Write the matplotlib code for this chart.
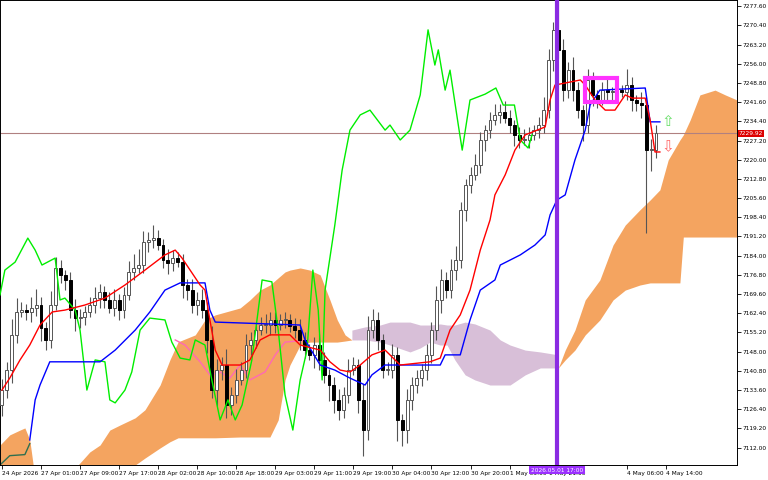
import matplotlib
matplotlib.use("Agg")
import matplotlib.pyplot as plt
from matplotlib.patches import Rectangle
import numpy as np

closes = [7133.8,7141.3,7154.4,7163.0,7163.7,7163.0,7164.5,7165.6,7157.0,7152.5,
          7165.6,7179.5,7176.8,7175.0,7163.7,7160.7,7161.1,7163.0,7165.6,7168.2,
          7170.5,7167.5,7164.5,7167.5,7163.7,7169.4,7178.0,7179.5,7180.6,7189.2,
          7190.0,7190.7,7188.1,7182.5,7181.3,7183.2,7181.7,7173.1,7171.2,7165.6,
          7167.5,7163.7,7152.5,7133.8,7141.3,7143.1,7128.1,7131.9,7137.5,7141.3,
          7150.6,7152.5,7156.2,7158.1,7158.1,7160.0,7158.1,7160.0,7160.0,7157.5,7156.2,
          7152.5,7148.7,7146.9,7150.6,7145.0,7139.4,7135.6,7130.0,7126.3,7131.9,
          7141.3,7143.1,7130.0,7118.8,7156.2,7160.0,7152.5,7141.3,7141.3,7146.9,
          7122.5,7118.8,7130.0,7135.6,7138.0,7141.3,7146.9,7156.2,7167.5,7175.0,7171.2,
          7178.7,7182.5,7201.2,7210.6,7214.3,7218.1,7227.4,7231.2,7234.9,7236.8,
          7237.9,7235.6,7233.0,7229.3,7227.4,7227.4,7229.3,7231.2,7233.0,7238.6,
          7257.4,7268.6,7261.1,7246.1,7253.6,7246.1,7238.6,7233.0,7249.9,7244.3,
          7242.4,7246.1,7245.4,7245.4,7246.1,7245.4,7248.0,7242.4,7241.3,7240.5,
          7223.7,7223.7,7229.92]
first_open = 7128.0
wick_up = [4,3,6,5,3,2,4,6,3,2, 5,4,3,2,3,4,3,2,3,4, 3,2,3,4,2,3,4,5,6,4,
           3,5,3,2,4,3,2,3,2,4, 3,4,3,5,4,3,6,3,4,3, 4,3,2,3,4,3,3,2,3,2,3,
           4,3,2,3,4,3,2,3,4,3, 4,3,2,6,5,4,3,2,3,4, 3,2,4,3,3,2,4,3,5,4,3,
           4,5,3,2,3,4,3,2,3,4, 3,4,3,2,3,4,3,2,3,5, 4,3,11,4,3,5,3,2,4,3,
           2,3,4,2,3,2,6,3,2,4, 3,4,3]
wick_dn = [4,3,5,3,2,3,4,3,5,4, 3,2,3,4,3,5,4,3,2,3, 4,3,2,3,4,3,2,3,2,3,
           4,3,2,3,4,3,2,5,4,3, 4,3,5,3,6,4,5,4,3,2, 3,4,3,2,3,4,3,2,3,2,3,
           4,3,2,5,4,3,6,5,4,3, 3,2,5,10,4,3,4,3,2,3, 8,6,5,4,3,3,4,3,4,5,3,
           3,4,3,4,3,2,3,4,3,2, 3,2,3,4,3,2,3,2,3,3, 3,4,3,4,3,4,3,6,3,4,
           3,2,3,4,3,2,3,4,3,5, 31,8,3]

tenkan_x = [0,1.6,3.7,5.7,7.8,10.3,12.9,17,21.1,25.2,29.3,33.4,35.5,36.9,40.6,41.6,42.6,43.7,45.1,48.8,
            50.8,52.9,54.9,59,61.1,65.2,67.2,69.3,71.3,73.4,75.8,78.5,81.6,87.7,89.8,91.8,93.9,95.9,98,100,
            101,103.1,105.1,107.2,111.3,112.3,113.3,118.5,119.5,121.5,123.6,125.6,127.7,129.1,131.8,132.8,133.8,134.8]
tenkan_y = [7133.6,7138.1,7144.9,7150.5,7158.0,7162.9,7163.6,7165.5,7168.1,7173.0,7178.6,7184.3,7186.1,7183.1,7173.0,7171.1,7159.9,7148.6,7143.0,7143.0,
            7144.9,7152.4,7154.3,7154.3,7150.5,7148.6,7144.2,7141.1,7140.4,7143.0,7146.8,7148.6,7143.0,7144.2,7145.6,7156.1,7161.8,7171.1,7186.1,7197.4,
            7206.8,7214.3,7223.6,7229.3,7232.3,7242.4,7248.0,7249.9,7248.0,7242.4,7238.6,7238.6,7244.3,7243.1,7243.1,7234.9,7222.9,7222.9]

kijun_x = [5.7,6.8,7.8,9.8,20.1,23.2,27.3,30.3,33.4,36.5,41.6,42.6,43.7,61.1,62.1,65.2,68.2,71.3,74.4,75.8,
           78.5,89.8,90.8,93.9,95.9,98,101,102.1,106.2,109.2,111.3,112.3,113.7,115.4,117.4,119.5,120.5,122.5,131.8,132.8,134.8]
kijun_y = [7114.9,7129.9,7135.5,7144.2,7144.2,7148.6,7156.1,7162.9,7171.1,7173.8,7173.8,7163.6,7159.1,7158.0,7152.4,7143.0,7141.1,7138.1,7135.5,7139.3,
           7143.0,7143.0,7146.8,7146.8,7159.9,7171.1,7174.9,7180.5,7184.3,7188.0,7191.8,7199.3,7204.9,7206.8,7219.9,7231.1,7240.5,7246.1,7246.9,7234.2,7234.2]

chikou_x = [-0.4,0.6,2.7,5.3,6.8,8.2,10.9,11.9,12.9,15,16,17.4,19.1,21.1,22.1,23.2,25.2,26.6,28.3,30.3,
            33.4,34.8,36.5,38.5,39.6,41.6,43,44.7,46.3,47.8,49.2,51.2,53.3,55.3,56.6,58,59.6,61.1,62.5,63.7,
            64.8,65.6,66.2,68.2,69.7,71.3,73.4,75.4,78.5,79.5,81.6,83.6,85.7,87.3,88.1,88.7,89.4,90.8,91.8,93.5,
            94.3,95.9,99,101.2,102.7,105,106.2,107.8,108.6]
chikou_y = [7169.3,7178.6,7181.6,7190.6,7186.1,7180.5,7183.1,7167.4,7168.1,7163.6,7156.1,7133.6,7144.9,7144.2,7129.9,7128.8,7133.6,7140.4,7156.1,7160.6,
            7159.9,7151.6,7145.6,7144.9,7152.4,7150.5,7137.4,7122.4,7129.9,7122.4,7128.0,7144.9,7174.9,7174.2,7156.1,7131.8,7118.6,7137.4,7148.6,7178.6,
            7163.6,7137.4,7171.1,7195.5,7216.1,7231.1,7236.8,7238.6,7231.1,7233.0,7227.4,7231.1,7244.3,7268.7,7261.2,7255.5,7261.2,7246.1,7253.6,7233.0,
            7223.6,7242.4,7244.6,7246.9,7240.5,7240.5,7227.4,7224.4,7229.3]

cloud1_x = [-0.4,1.6,3.7,4.7,5.7,6.4]
cloud1_top = [7113.0,7116.8,7118.6,7119.4,7114.9,7105.5]
cloud1_bot = [7105.5]*6

cloud2_x = [15.6,18.0,20.1,22.1,24.2,27.3,29.3,32.4,34.4,36.1,39.6,41.6,43.7,48.8,50.8,52.9,54.9,56.6,58.0,59.0,61.1,63.1,65.2,67.2,68.7,70.3,71.7]
cloud2_top = [7105.5,7110.4,7113.0,7118.6,7120.5,7123.2,7126.2,7135.5,7144.9,7151.7,7154.3,7159.9,7161.8,7164.4,7167.4,7171.1,7173.0,7175.7,7177.9,7178.6,7179.4,7178.6,7176.8,7167.4,7159.9,7154.3,7152.4]
cloud2_bot = [7105.5,7105.5,7105.5,7105.5,7105.5,7105.5,7108.1,7111.9,7114.2,7115.7,7115.7,7115.7,7115.7,7116.0,7116.0,7116.0,7116.0,7122.4,7137.4,7143.0,7150.5,7151.6,7151.6,7151.6,7151.6,7152.0,7152.4]

cloud3_x = [71.7,74.4,77.5,79.5,83.6,85.7,87.7,89.8,91.2,92.8,94.9,96.9,100.0,102.1,104.1,107.2,110.3,114.0]
cloud3_top = [7156.1,7157.3,7158.0,7159.1,7159.1,7158.0,7158.0,7158.4,7158.0,7158.0,7159.1,7158.4,7156.1,7152.4,7150.5,7148.6,7147.9,7146.8]
cloud3_bot = [7152.4,7152.4,7151.6,7150.5,7147.9,7149.4,7151.6,7150.5,7150.5,7144.9,7139.3,7137.4,7135.5,7135.5,7135.5,7139.3,7141.9,7141.9]

cloud4_x = [114.0,115.4,117.4,119.5,122.5,125.2,127.7,130.7,132.8,134.8,136.5,138.9,139.6,141.0,143.0,146.1,148.2,150.6]
cloud4_top = [7141.9,7148.6,7156.1,7167.4,7174.9,7188.0,7195.5,7201.2,7204.9,7208.7,7219.9,7227.4,7229.3,7234.9,7244.3,7246.1,7244.3,7242.4]
cloud4_bot = [7141.9,7144.9,7148.6,7154.3,7159.9,7167.4,7171.1,7173.0,7173.8,7173.8,7173.8,7173.8,7191.0,7191.0,7191.0,7191.0,7191.0,7191.0]

pink_x = [35.5,37.5,40.6,42.6,44.7,46.7,48.8,50.8,53.9,56,58,63.1]
pink_y = [7152.4,7150.5,7144.2,7139.3,7140.4,7138.1,7143.0,7137.4,7140.4,7146.8,7151.6,7152.4]

tick_labels = ["24 Apr 2026","27 Apr 01:00","27 Apr 09:00","27 Apr 17:00","28 Apr 02:00","28 Apr 10:00",
               "28 Apr 18:00","29 Apr 03:00","29 Apr 11:00","29 Apr 19:00","30 Apr 04:00","30 Apr 12:00",
               "30 Apr 20:00","1 May 05:00","1 May 21:00","4 May 06:00","4 May 14:00"]
tick_pos = [0,8,16,24,32,40,48,56,64,72,80,88,96,104,112,128,136]
cursor_bar = 113.7
cursor_label = "2026.05.01 17:00"
last_price = 7229.92
price_ticks = [7112.00 + 7.2*k for k in range(24)]
ymin, ymax = 7105.5, 7279.9

fig = plt.figure(figsize=(7.68, 4.8), dpi=100)
ax = fig.add_axes([0, 15/480, 737/768, 465/480])
ax.set_xlim(-0.4, 150.6)
ax.set_ylim(ymin, ymax)

ORANGE = "#f4a460"
ax.fill_between(cloud1_x, cloud1_bot, cloud1_top, color=ORANGE, lw=0, zorder=1)
ax.fill_between(cloud2_x, cloud2_bot, cloud2_top, color=ORANGE, lw=0, zorder=1)
ax.fill_between(cloud3_x, cloud3_bot, cloud3_top, color="#d8bfd8", lw=0, zorder=1)
ax.fill_between(cloud4_x, cloud4_bot, cloud4_top, color=ORANGE, lw=0, zorder=1)
ax.plot(pink_x, pink_y, color="#ff69b4", lw=1, zorder=2)
ax.plot([-0.4,1.6,4.7,5.7], [7105.5,7109.0,7109.4,7113.5], color="#2f6f4f", lw=1, zorder=2)

ax.axhline(last_price, color="#b08080", lw=0.8, zorder=2)

opens = [first_open] + closes[:-1]
for i, (o, c) in enumerate(zip(opens, closes)):
    hi = max(o, c) + wick_up[i]
    lo = min(o, c) - wick_dn[i]
    ax.vlines(i, lo, hi, color="#555555", lw=0.8, zorder=3)
    bull = c >= o
    ax.bar(i, abs(c - o) if abs(c-o) > 0.3 else 0.3, bottom=min(o, c), width=0.6,
           color="white" if bull else "black", edgecolor="#555555" if bull else "black",
           linewidth=0.7, zorder=4)

ax.plot(chikou_x, chikou_y, color="#00ee00", lw=1, zorder=5)
ax.plot(kijun_x, kijun_y, color="#0000ff", lw=1, zorder=5)
ax.plot(tenkan_x, tenkan_y, color="#ff0000", lw=1, zorder=6)

ax.axvline(cursor_bar, color="#8a2be2", lw=3, zorder=7)
ax.add_patch(Rectangle((119.5, 7241.6), 6.5, 9.0, fill=False, edgecolor="#ff33ff", lw=3, zorder=8))
ax.text(136.5, 7234.5, "⇧", color="#66dd66", fontsize=11, ha="center", va="center", zorder=8)
ax.text(136.5, 7225.0, "⇩", color="#ff6666", fontsize=11, ha="center", va="center", zorder=8)

FS = 4.2
ax.yaxis.tick_right()
ax.set_yticks(price_ticks)
ax.set_yticklabels([f"{p:.2f}" for p in price_ticks], fontsize=FS)
ax.tick_params(axis="y", length=3, pad=1, width=0.6)
ax.set_xticks(tick_pos)
ax.set_xticklabels(tick_labels, fontsize=FS, ha="left")
ax.tick_params(axis="x", length=3, pad=1.5, width=0.6)
for s in ax.spines.values():
    s.set_linewidth(0.7)
ax.text(1.002, (last_price-ymin)/(ymax-ymin), f"{last_price:.2f}", transform=ax.transAxes,
        fontsize=FS, color="white", va="center", ha="left",
        bbox=dict(boxstyle="square,pad=0.15", fc="#dd0000", ec="none"), zorder=10)
ax.text(cursor_bar, ymin - 1.0, cursor_label, fontsize=FS, color="white", ha="center", va="top",
        bbox=dict(boxstyle="square,pad=0.3", fc="#9b30ff", ec="none"), zorder=10, clip_on=False)

fig.savefig("out.png", dpi=100)
